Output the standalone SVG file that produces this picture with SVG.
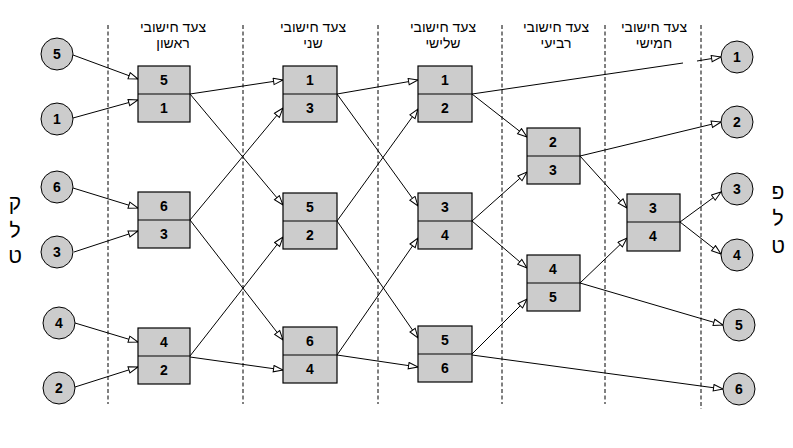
<svg xmlns="http://www.w3.org/2000/svg" width="793" height="448" viewBox="0 0 793 448">
<style>
.bg{fill:#ffffff}
.sep{stroke:#000;stroke-width:1;stroke-dasharray:4 2.5;fill:none}
.hdr{font-family:"Liberation Sans","DejaVu Sans",sans-serif;font-size:14px;fill:#000;text-anchor:middle}
.side{font-family:"Liberation Sans","DejaVu Sans",sans-serif;font-size:21px;fill:#000;text-anchor:middle}
.box{fill:#cccccc;stroke:#000;stroke-width:1.2}
.div{stroke:#000;stroke-width:1.2}
.circ{fill:#cccccc;stroke:#000;stroke-width:1}
.num{font-family:"Liberation Sans","DejaVu Sans",sans-serif;font-size:14px;font-weight:bold;fill:#000;text-anchor:middle}
.con{stroke:#000;stroke-width:1;fill:none}
.arr{stroke:#000;stroke-width:1;fill:none;marker-end:url(#tri)}
</style>
<defs>
<marker id="tri" markerUnits="userSpaceOnUse" markerWidth="12" markerHeight="10" refX="10.5" refY="4" orient="auto">
<path d="M1,0.8 L10.5,4 L1,7.2 Z" fill="#fff" stroke="#000" stroke-width="1"/>
</marker>
</defs>
<rect class="bg" x="0" y="0" width="793" height="448"/>
<g id="separators">
<line class="sep" x1="108" y1="25" x2="108" y2="404"/>
<line class="sep" x1="243" y1="25" x2="243" y2="404"/>
<line class="sep" x1="378" y1="25" x2="378" y2="404"/>
<line class="sep" x1="502" y1="25" x2="502" y2="404"/>
<line class="sep" x1="605" y1="25" x2="605" y2="404"/>
<line class="sep" x1="701" y1="25" x2="701" y2="409"/>
</g>
<g id="headers">
<text class="hdr" x="173" y="32">צעד חישובי</text>
<text class="hdr" x="173" y="48">ראשון</text>
<text class="hdr" x="313" y="32">צעד חישובי</text>
<text class="hdr" x="313" y="48">שני</text>
<text class="hdr" x="443" y="32">צעד חישובי</text>
<text class="hdr" x="443" y="48">שלישי</text>
<text class="hdr" x="556" y="32">צעד חישובי</text>
<text class="hdr" x="556" y="48">רביעי</text>
<text class="hdr" x="654" y="32">צעד חישובי</text>
<text class="hdr" x="654" y="48">חמישי</text>
</g>
<g id="side-labels">
<text class="side" x="15" y="210">ק</text>
<text class="side" x="15" y="238">ל</text>
<text class="side" x="15" y="263">ט</text>
<text class="side" x="778" y="199">פ</text>
<text class="side" x="778" y="226">ל</text>
<text class="side" x="778" y="253">ט</text>
</g>
<g id="connectors">
<line class="arr" x1="73" y1="55" x2="138" y2="79"/>
<line class="arr" x1="73" y1="118" x2="138" y2="100"/>
<line class="arr" x1="73" y1="188" x2="138" y2="208"/>
<line class="arr" x1="74" y1="252" x2="138" y2="231"/>
<line class="arr" x1="75" y1="323" x2="138" y2="342"/>
<line class="arr" x1="75" y1="387" x2="138" y2="367"/>
<line class="arr" x1="190" y1="94" x2="283" y2="80"/>
<line class="arr" x1="190" y1="94" x2="283" y2="205"/>
<line class="arr" x1="190" y1="220" x2="283" y2="108"/>
<line class="arr" x1="190" y1="220" x2="283" y2="340"/>
<line class="arr" x1="190" y1="356" x2="283" y2="237"/>
<line class="arr" x1="190" y1="357" x2="283" y2="370"/>
<line class="arr" x1="337" y1="94" x2="418" y2="80"/>
<line class="arr" x1="337" y1="94" x2="418" y2="206"/>
<line class="arr" x1="337" y1="221" x2="418" y2="109"/>
<line class="arr" x1="337" y1="221" x2="418" y2="338"/>
<line class="arr" x1="337" y1="355" x2="418" y2="238"/>
<line class="arr" x1="337" y1="355" x2="418" y2="367"/>
<line class="con" x1="472" y1="94" x2="683" y2="63"/>
<line class="arr" x1="697" y1="61" x2="721" y2="57"/>
<line class="arr" x1="472" y1="94" x2="527" y2="137"/>
<line class="arr" x1="472" y1="221" x2="527" y2="172"/>
<line class="arr" x1="472" y1="221" x2="527" y2="268"/>
<line class="arr" x1="472" y1="354" x2="527" y2="299"/>
<line class="arr" x1="472" y1="355" x2="723" y2="389"/>
<line class="arr" x1="580" y1="156" x2="721" y2="122"/>
<line class="arr" x1="580" y1="156" x2="627" y2="208"/>
<line class="arr" x1="580" y1="283" x2="627" y2="238"/>
<line class="arr" x1="580" y1="283" x2="723" y2="325"/>
<line class="arr" x1="680" y1="222" x2="721" y2="192"/>
<line class="arr" x1="680" y1="222" x2="721" y2="254"/>
</g>
<g id="in-5"><circle class="circ" cx="57" cy="54" r="16"/><text class="num" x="57" y="59">5</text></g>
<g id="in-1"><circle class="circ" cx="57" cy="119" r="16"/><text class="num" x="57" y="124">1</text></g>
<g id="in-6"><circle class="circ" cx="57" cy="187" r="16"/><text class="num" x="57" y="192">6</text></g>
<g id="in-3"><circle class="circ" cx="57" cy="252" r="16"/><text class="num" x="57" y="257">3</text></g>
<g id="in-4"><circle class="circ" cx="59" cy="323" r="16"/><text class="num" x="59" y="328">4</text></g>
<g id="in-2"><circle class="circ" cx="59" cy="388" r="16"/><text class="num" x="59" y="393">2</text></g>
<g id="s1-a"><rect class="box" x="138" y="66" width="52" height="56"/><line class="div" x1="138" y1="94" x2="190" y2="94"/><text class="num" x="164" y="85">5</text><text class="num" x="164" y="113">1</text></g>
<g id="s1-b"><rect class="box" x="138" y="192" width="52" height="56"/><line class="div" x1="138" y1="220" x2="190" y2="220"/><text class="num" x="164" y="211">6</text><text class="num" x="164" y="239">3</text></g>
<g id="s1-c"><rect class="box" x="138" y="328" width="52" height="56"/><line class="div" x1="138" y1="356" x2="190" y2="356"/><text class="num" x="164" y="347">4</text><text class="num" x="164" y="375">2</text></g>
<g id="s2-a"><rect class="box" x="283" y="66" width="54" height="56"/><line class="div" x1="283" y1="94" x2="337" y2="94"/><text class="num" x="310" y="85">1</text><text class="num" x="310" y="113">3</text></g>
<g id="s2-b"><rect class="box" x="283" y="193" width="54" height="56"/><line class="div" x1="283" y1="221" x2="337" y2="221"/><text class="num" x="310" y="212">5</text><text class="num" x="310" y="240">2</text></g>
<g id="s2-c"><rect class="box" x="283" y="327" width="54" height="56"/><line class="div" x1="283" y1="355" x2="337" y2="355"/><text class="num" x="310" y="346">6</text><text class="num" x="310" y="374">4</text></g>
<g id="s3-a"><rect class="box" x="418" y="66" width="54" height="56"/><line class="div" x1="418" y1="94" x2="472" y2="94"/><text class="num" x="445" y="85">1</text><text class="num" x="445" y="113">2</text></g>
<g id="s3-b"><rect class="box" x="418" y="193" width="54" height="56"/><line class="div" x1="418" y1="221" x2="472" y2="221"/><text class="num" x="445" y="212">3</text><text class="num" x="445" y="240">4</text></g>
<g id="s3-c"><rect class="box" x="418" y="326" width="54" height="56"/><line class="div" x1="418" y1="354" x2="472" y2="354"/><text class="num" x="445" y="345">5</text><text class="num" x="445" y="373">6</text></g>
<g id="s4-a"><rect class="box" x="527" y="128" width="53" height="56"/><line class="div" x1="527" y1="156" x2="580" y2="156"/><text class="num" x="553" y="147">2</text><text class="num" x="553" y="175">3</text></g>
<g id="s4-b"><rect class="box" x="527" y="255" width="53" height="56"/><line class="div" x1="527" y1="283" x2="580" y2="283"/><text class="num" x="553" y="274">4</text><text class="num" x="553" y="302">5</text></g>
<g id="s5-a"><rect class="box" x="627" y="194" width="53" height="57"/><line class="div" x1="627" y1="222" x2="680" y2="222"/><text class="num" x="653" y="213">3</text><text class="num" x="653" y="241">4</text></g>
<g id="out-1"><circle class="circ" cx="737" cy="57" r="16"/><text class="num" x="737" y="62">1</text></g>
<g id="out-2"><circle class="circ" cx="737" cy="122" r="16"/><text class="num" x="737" y="127">2</text></g>
<g id="out-3"><circle class="circ" cx="737" cy="189" r="16"/><text class="num" x="737" y="194">3</text></g>
<g id="out-4"><circle class="circ" cx="737" cy="255" r="16"/><text class="num" x="737" y="260">4</text></g>
<g id="out-5"><circle class="circ" cx="739" cy="325" r="16"/><text class="num" x="739" y="330">5</text></g>
<g id="out-6"><circle class="circ" cx="739" cy="389" r="16"/><text class="num" x="739" y="394">6</text></g>
</svg>
